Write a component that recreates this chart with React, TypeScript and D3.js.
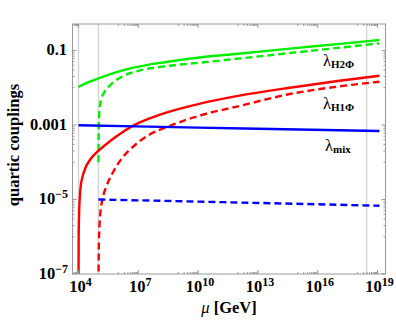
import React from "react";
import * as d3 from "d3";

const W = 396;
const H = 327;
const plot = { left: 72.5, right: 385.5, top: 24, bottom: 274 };

// log10(mu/GeV) where each curve was read, and the coupling there
const h2SolidMu = [4, 4.5, 5.05, 6, 6.7, 8.4, 10.07, 12, 14.6, 17, 19.1];
const h2SolidVal = [0.0105, 0.0141, 0.0182, 0.0269, 0.0339, 0.049, 0.0646, 0.0813, 0.112, 0.148, 0.191];

const h2DashMu = [5.0, 5.005, 5.02, 5.05, 5.15, 5.3, 5.56, 6.2, 7.0, 8.4, 10.07, 12, 14.6, 17, 19.1];
const h2DashVal = [1.0e-4, 2.5e-4, 1.0e-3, 2.5e-3, 5.0e-3, 7.6e-3, 0.0112, 0.02, 0.0282, 0.038, 0.0468, 0.0603, 0.0851, 0.117, 0.155];

const h1SolidMu = [4.0, 4.002, 4.01, 4.03, 4.06, 4.1, 4.2, 4.35, 4.6, 5.05, 5.5, 6.0, 6.7, 7.5, 8.4, 10.0, 12, 14.6, 17, 19.1];
const h1SolidVal = [1e-9, 6.3e-8, 1e-6, 4e-6, 1e-5, 2e-5, 4e-5, 7.1e-5, 1.2e-4, 2.14e-4, 3.39e-4, 5.37e-4, 9.3e-4, 1.45e-3, 2.14e-3, 3.63e-3, 6.03e-3, 0.01, 0.0151, 0.0209];

const h1DashMu = [5.0, 5.005, 5.02, 5.05, 5.1, 5.2, 5.4, 5.7, 6.1, 6.7, 7.5, 8.6, 10.07, 12, 14.6, 17, 19.1];
const h1DashVal = [1e-9, 7.9e-8, 5e-7, 1.78e-6, 4.5e-6, 1e-5, 2.24e-5, 5e-5, 1.12e-4, 2.5e-4, 5.25e-4, 9.5e-4, 1.78e-3, 3.16e-3, 6.76e-3, 0.0107, 0.0145];

const mixSolidMu = [4, 10, 19.1];
const mixSolidVal = [9.8e-4, 8.5e-4, 6.9e-4];

const mixDashMu = [5, 12, 19.1];
const mixDashVal = [1.0e-5, 8.3e-6, 6.8e-6];

// thresholds drawn as grey verticals
const thresholdsMu = [4, 5, 18.45];

const xTickExp = [4, 7, 10, 13, 16, 19];
const yTickExp = [-1, -3, -5, -7];
const yTickText = ["0.1", "0.001", null, null];

const curves = [
  { mu: h2SolidMu, val: h2SolidVal, color: "#00ee00", dash: null },
  { mu: h2DashMu, val: h2DashVal, color: "#00ee00", dash: "7,4" },
  { mu: h1SolidMu, val: h1SolidVal, color: "#ff0000", dash: null },
  { mu: h1DashMu, val: h1DashVal, color: "#ff0000", dash: "7,4" },
  { mu: mixSolidMu, val: mixSolidVal, color: "#0000ff", dash: null },
  { mu: mixDashMu, val: mixDashVal, color: "#0000ff", dash: "7,4" },
];

const serif = "'Liberation Serif', 'Times New Roman', serif";

export default function App() {
  const x = d3.scaleLog().domain([10 ** 3.7, 10 ** 19.4]).range([plot.left, plot.right]);
  const y = d3.scaleLog().domain([1e-7, 10 ** -0.29]).range([plot.bottom, plot.top]);

  const line = d3
    .line<[number, number]>()
    .x((d) => x(10 ** d[0]))
    .y((d) => y(d[1]))
    .curve(d3.curveMonotoneX);

  // minor ticks: the decade just below each labelled one
  const xMinor: number[] = [];
  xTickExp.forEach((k) => {
    for (let m = 1; m <= 9; m++) {
      const v = m * 10 ** (k - 1);
      if (x(v) > plot.left && x(v) < plot.right) xMinor.push(v);
    }
  });
  const yMinor: number[] = [];
  yTickExp.forEach((k) => {
    for (let m = 1; m <= 9; m++) {
      const v = m * 10 ** (k - 1);
      if (y(v) > plot.top && y(v) < plot.bottom) yMinor.push(v);
    }
  });

  const tickColor = "#999";

  return (
    <svg width={W} height={H} style={{ position: "absolute", left: 0, top: 0, background: "#fff" }}>
      <defs>
        <clipPath id="plotClip">
          <rect x={plot.left} y={plot.top} width={plot.right - plot.left} height={plot.bottom - plot.top} />
        </clipPath>
      </defs>

      {thresholdsMu.map((t, i) => (
        <line key={"th" + i} x1={x(10 ** t)} x2={x(10 ** t)} y1={plot.top} y2={plot.bottom} stroke="#d4d4d4" strokeWidth={1.5} />
      ))}

      <g clipPath="url(#plotClip)">
        {curves.map((c, i) => (
          <path
            key={i}
            d={line(c.mu.map((t, j) => [t, c.val[j]] as [number, number])) || ""}
            fill="none"
            stroke={c.color}
            strokeWidth={2.4}
            strokeDasharray={c.dash || undefined}
          />
        ))}
      </g>

      {/* frame */}
      <rect x={plot.left} y={plot.top} width={plot.right - plot.left} height={plot.bottom - plot.top} fill="none" stroke={tickColor} strokeWidth={1} />

      {/* x ticks bottom & top */}
      {xTickExp.map((k) => {
        const px = x(10 ** k);
        return (
          <g key={"xt" + k}>
            <line x1={px} x2={px} y1={plot.bottom} y2={plot.bottom - 4} stroke={tickColor} />
            <line x1={px} x2={px} y1={plot.top} y2={plot.top + 4} stroke={tickColor} />
            <text x={px + 2} y={292} textAnchor="middle" fontFamily={serif} fontWeight="bold" fontSize={16.5}>
              10
              <tspan dy={-6.5} fontSize={12}>{k}</tspan>
            </text>
          </g>
        );
      })}
      {xMinor.map((v, i) => (
        <g key={"xm" + i}>
          <line x1={x(v)} x2={x(v)} y1={plot.bottom} y2={plot.bottom - 2} stroke={tickColor} />
          <line x1={x(v)} x2={x(v)} y1={plot.top} y2={plot.top + 2} stroke={tickColor} />
        </g>
      ))}

      {/* y ticks left & right */}
      {yTickExp.map((k, i) => {
        const py = y(10 ** k);
        return (
          <g key={"yt" + k}>
            <line x1={plot.left} x2={plot.left + 4} y1={py} y2={py} stroke={tickColor} />
            <line x1={plot.right} x2={plot.right - 4} y1={py} y2={py} stroke={tickColor} />
            {yTickText[i] ? (
              <text x={67} y={py + 5} textAnchor="end" fontFamily={serif} fontWeight="bold" fontSize={16.5}>
                {yTickText[i]}
              </text>
            ) : (
              <text x={68} y={py + 5} textAnchor="end" fontFamily={serif} fontWeight="bold" fontSize={16.5}>
                10
                <tspan dy={-6.5} fontSize={12}>{"\u2212" + Math.abs(k)}</tspan>
              </text>
            )}
          </g>
        );
      })}
      {yMinor.map((v, i) => (
        <g key={"ym" + i}>
          <line x1={plot.left} x2={plot.left + 2} y1={y(v)} y2={y(v)} stroke={tickColor} />
          <line x1={plot.right} x2={plot.right - 2} y1={y(v)} y2={y(v)} stroke={tickColor} />
        </g>
      ))}

      {/* axis titles */}
      <text transform="translate(18.5,145) rotate(-90)" textAnchor="middle" fontFamily={serif} fontWeight="bold" fontSize={16.5}>
        quartic couplings
      </text>
      <text x={229} y={313} textAnchor="middle" fontFamily={serif} fontWeight="bold" fontSize={16.5}>
        <tspan fontStyle="italic" fontWeight="normal">μ</tspan> [GeV]
      </text>

      {/* curve labels */}
      <text x={323} y={66} fontFamily={serif} fontSize={16.5}>
        λ<tspan dy={2} fontSize={11} fontWeight="bold">H2Φ</tspan>
      </text>
      <text x={323} y={109} fontFamily={serif} fontSize={16.5}>
        λ<tspan dy={2} fontSize={11} fontWeight="bold">H1Φ</tspan>
      </text>
      <text x={325} y={151} fontFamily={serif} fontSize={16.5}>
        λ<tspan dy={2} fontSize={11} fontWeight="bold">mix</tspan>
      </text>
    </svg>
  );
}
